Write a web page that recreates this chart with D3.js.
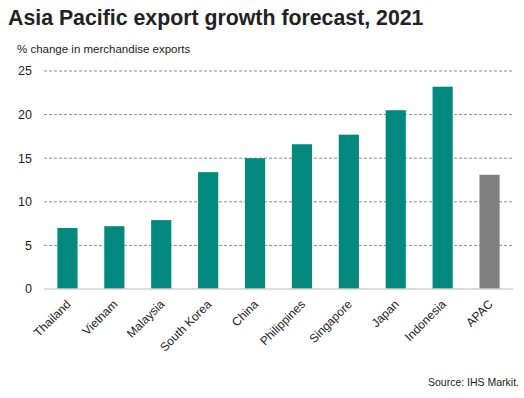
<!DOCTYPE html>
<html>
<head>
<meta charset="utf-8">
<script src="https://cdn.jsdelivr.net/npm/d3@7"></script>
<style>
  body { margin: 0; background: #fff; }
  text { font-family: "Liberation Sans", Arial, sans-serif; }
</style>
</head>
<body>
<script>
var width = 524, height = 398;

// data
var countries = ["Thailand", "Vietnam", "Malaysia", "South Korea", "China",
                 "Philippines", "Singapore", "Japan", "Indonesia", "APAC"];
var growth = [7.0, 7.2, 7.9, 13.4, 15.0, 16.6, 17.7, 20.5, 23.2, 13.1];
var yTicks = [0, 5, 10, 15, 20, 25];

var margin = {top: 71, left: 44, right: 11, bottom: 109};

var svg = d3.select("body").append("svg").attr("width", width).attr("height", height);

var x = d3.scaleBand().domain(countries)
    .range([margin.left, width - margin.right])
    .paddingInner(0.57).paddingOuter(0.285);
var y = d3.scaleLinear().domain([0, 25]).range([height - margin.bottom, margin.top]);

//title + subtitle
svg.append("text").attr("x", 8).attr("y", 25).text("Asia Pacific export growth forecast, 2021")
    .style("font-size", "21.3px").style("font-weight", "bold").style("fill", "#222");
svg.append("text").attr("x", 17).attr("y", 53).text("% change in merchandise exports")
    .style("font-size", "11.5px").style("fill", "#222");

//gridlines
svg.append("g").selectAll("line").data(yTicks.filter(function(d) { return d > 0; }))
    .enter().append("line")
    .attr("x1", margin.left).attr("x2", width - margin.right)
    .attr("y1", function(d) { return y(d); }).attr("y2", function(d) { return y(d); })
    .style("stroke", "#8c8c8c").style("stroke-width", 1).style("stroke-dasharray", "3,2");

//y tick labels
svg.append("g").selectAll("text").data(yTicks).enter().append("text")
    .attr("x", 32).attr("y", function(d) { return y(d); }).attr("dy", "0.35em")
    .attr("text-anchor", "end").text(function(d) { return d; })
    .style("font-size", "12.5px").style("fill", "#222");

//bars
svg.append("g").selectAll("rect").data(growth).enter().append("rect")
    .attr("x", function(d, i) { return x(countries[i]); })
    .attr("width", x.bandwidth())
    .attr("y", function(d) { return y(d); })
    .attr("height", function(d) { return y(0) - y(d); })
    .style("fill", function(d, i) { return countries[i] == "APAC" ? "#808080" : "#00897c"; });

//x axis line
svg.append("line").attr("x1", margin.left).attr("x2", width - margin.right)
    .attr("y1", y(0)).attr("y2", y(0))
    .style("stroke", "#d0d0d0").style("stroke-width", 1.5);

//category labels, rotated
svg.append("g").selectAll("text").data(countries).enter().append("text")
    .attr("transform", function(d) {
        return "translate(" + (x(d) + x.bandwidth() / 2 + 1) + "," + (y(0) + 13) + ") rotate(-45)";
    })
    .attr("text-anchor", "end").attr("dy", "0.35em").text(function(d) { return d; })
    .style("font-size", "12px").style("fill", "#222");

//source
svg.append("text").attr("x", 519).attr("y", 386).attr("text-anchor", "end")
    .text("Source: IHS Markit.").style("font-size", "10.5px").style("fill", "#222");
</script>
</body>
</html>
